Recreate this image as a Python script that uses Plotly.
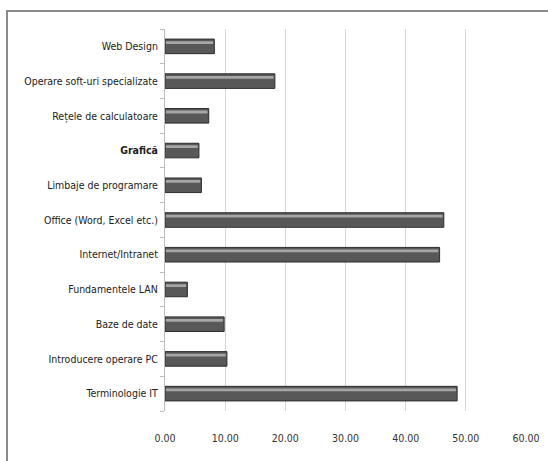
import plotly.graph_objects as go

# Course topics, listed top to bottom as drawn
topics = [
    "Web Design",
    "Operare soft-uri specializate",
    "Rețele de calculatoare",
    "Grafică",
    "Limbaje de programare",
    "Office (Word, Excel etc.)",
    "Internet/Intranet",
    "Fundamentele LAN",
    "Baze de date",
    "Introducere operare PC",
    "Terminologie IT",
]
percent = [8.20, 18.26, 7.27, 5.64, 6.05, 46.34, 45.64, 3.72, 9.83, 10.29, 48.55]

x_ticks = [0, 10, 20, 30, 40, 50, 60]
x_tick_labels = ["0.00", "10.00", "20.00", "30.00", "40.00", "50.00", "60.00"]

label_text = [f"<b>{t}</b>" if t == "Grafică" else t for t in topics]

fig = go.Figure()

# main bar body
fig.add_trace(go.Bar(
    x=percent, y=topics, orientation="h",
    width=0.42, offset=-0.21,
    marker=dict(color="#585858", line=dict(color="#2e2e2e", width=1)),
    hoverinfo="skip",
))
# light band giving the rounded, shaded look
fig.add_trace(go.Bar(
    x=[v - 0.35 for v in percent], y=topics, orientation="h",
    width=0.08, offset=-0.15, base=0.15,
    marker=dict(color="#a6a6a6", line=dict(width=0)),
    hoverinfo="skip",
))

fig.update_layout(
    width=548, height=461,
    margin=dict(l=165, r=22, t=29, b=50),
    paper_bgcolor="white", plot_bgcolor="white",
    barmode="overlay",
    showlegend=False,
    font=dict(family="DejaVu Sans Condensed, sans-serif", size=11, color="#222"),
    xaxis=dict(
        range=[0, 60], tickvals=x_ticks, ticktext=x_tick_labels,
        showgrid=True, gridcolor="#d6d6d6", gridwidth=1,
        zeroline=False, showline=False,
        ticks="outside", ticklen=17, tickcolor="rgba(0,0,0,0)",
        tickfont=dict(size=10.5, color="#333"),
        automargin=False,
        fixedrange=True,
    ),
    yaxis=dict(
        autorange="reversed",
        tickvals=topics, ticktext=label_text,
        showline=True, linecolor="#bdbdbd", linewidth=1,
        ticks="outside", tickson="boundaries", ticklen=4, tickcolor="#bdbdbd",
        ticklabelstandoff=4,
        tickfont=dict(size=10.5, color="#222"),
        automargin=False,
        fixedrange=True,
    ),
    shapes=[
        # outer chart frame
        dict(type="rect", xref="paper", yref="paper",
             x0=(7 - 165) / 361, y0=-0.3, x1=1.3, y1=1 + (29 - 11) / 382,
             line=dict(color="#8a8a8a", width=2), fillcolor="rgba(0,0,0,0)",
             layer="below"),
    ],
)

fig.write_html("out.html")
